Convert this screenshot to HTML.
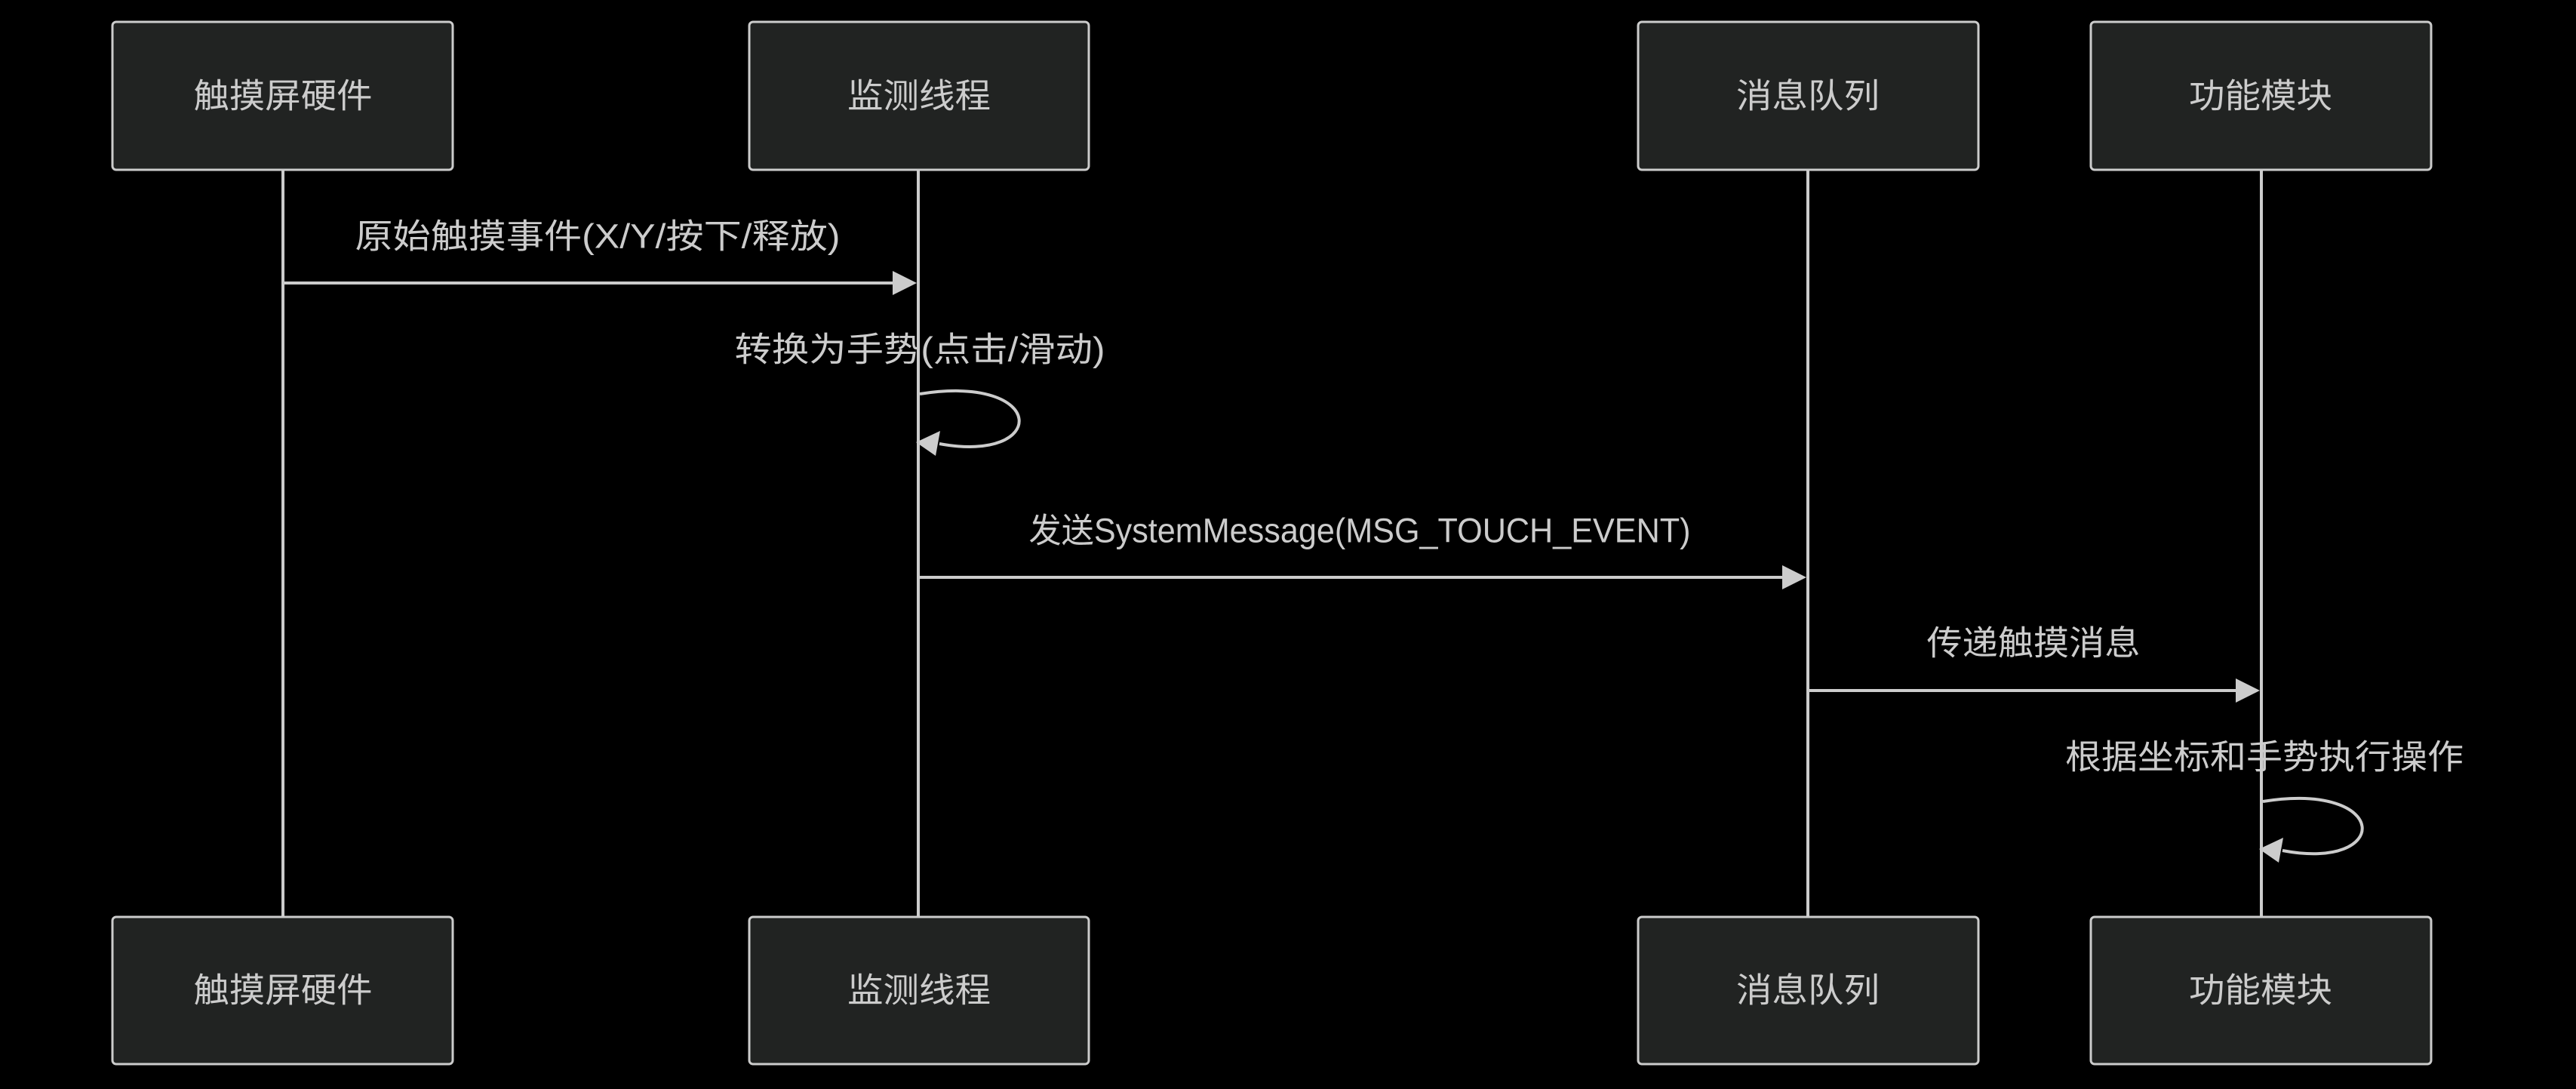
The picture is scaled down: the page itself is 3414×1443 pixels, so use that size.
<!DOCTYPE html>
<html><head><meta charset="utf-8"><style>
html,body{margin:0;padding:0;background:#000;}
svg{display:block;}
text{font-family:"Liberation Sans","Noto Sans CJK SC",sans-serif;fill:#cccccc;font-size:45px;}
</style></head><body>
<svg width="3414" height="1443" viewBox="0 0 3414 1443" xmlns="http://www.w3.org/2000/svg">
<rect width="3414" height="1443" fill="#000"/>
<g stroke="#cccccc" stroke-width="4" fill="none">
<line x1="375" y1="225" x2="375" y2="1215"/>
<line x1="1217" y1="225" x2="1217" y2="1215"/>
<line x1="2396" y1="225" x2="2396" y2="1215"/>
<line x1="2997" y1="225" x2="2997" y2="1215"/>
</g>
<g fill="#212322" stroke="#cccccc" stroke-width="3">
<rect x="149" y="29" width="451" height="196" rx="5"/>
<rect x="993" y="29" width="450" height="196" rx="5"/>
<rect x="2171" y="29" width="451" height="196" rx="5"/>
<rect x="2771" y="29" width="451" height="196" rx="5"/>
<rect x="149" y="1215" width="451" height="195" rx="5"/>
<rect x="993" y="1215" width="450" height="195" rx="5"/>
<rect x="2171" y="1215" width="451" height="195" rx="5"/>
<rect x="2771" y="1215" width="451" height="195" rx="5"/>
</g>
<g text-anchor="middle" dominant-baseline="central">
<text x="375" y="127" textLength="237" lengthAdjust="spacingAndGlyphs">触摸屏硬件</text>
<text x="1218" y="127" textLength="190" lengthAdjust="spacingAndGlyphs">监测线程</text>
<text x="2396" y="127" textLength="190" lengthAdjust="spacingAndGlyphs">消息队列</text>
<text x="2996" y="127" textLength="190" lengthAdjust="spacingAndGlyphs">功能模块</text>
<text x="375" y="1312" textLength="237" lengthAdjust="spacingAndGlyphs">触摸屏硬件</text>
<text x="1218" y="1312" textLength="190" lengthAdjust="spacingAndGlyphs">监测线程</text>
<text x="2396" y="1312" textLength="190" lengthAdjust="spacingAndGlyphs">消息队列</text>
<text x="2996" y="1312" textLength="190" lengthAdjust="spacingAndGlyphs">功能模块</text>
<text x="792" y="313" textLength="643" lengthAdjust="spacingAndGlyphs">原始触摸事件(X/Y/按下/释放)</text>
<text x="1219" y="463" textLength="491" lengthAdjust="spacingAndGlyphs">转换为手势(点击/滑动)</text>
<text x="1802" y="703" textLength="877" lengthAdjust="spacingAndGlyphs">发送SystemMessage(MSG_TOUCH_EVENT)</text>
<text x="2695" y="852" textLength="283" lengthAdjust="spacingAndGlyphs">传递触摸消息</text>
<text x="3001" y="1003" textLength="528" lengthAdjust="spacingAndGlyphs">根据坐标和手势执行操作</text>
</g>
<g stroke="#cccccc" stroke-width="4" fill="none">
<line x1="377" y1="375" x2="1185" y2="375"/>
<line x1="1219" y1="765" x2="2364" y2="765"/>
<line x1="2398" y1="915" x2="2965" y2="915"/>
<path d="M1219,522 C1390,495 1390,615 1245,588"/>
<path d="M2999,1062 C3170,1035 3170,1155 3025,1127"/>
</g>
<g fill="#cccccc">
<polygon points="1215,375 1183,359 1183,391"/>
<polygon points="2394,765 2362,749 2362,781"/>
<polygon points="2995,915 2963,899 2963,931"/>
<polygon points="1214,586 1246,571 1240,604"/>
<polygon points="2994,1125 3026,1110 3020,1143"/>
</g>
</svg>
</body></html>
